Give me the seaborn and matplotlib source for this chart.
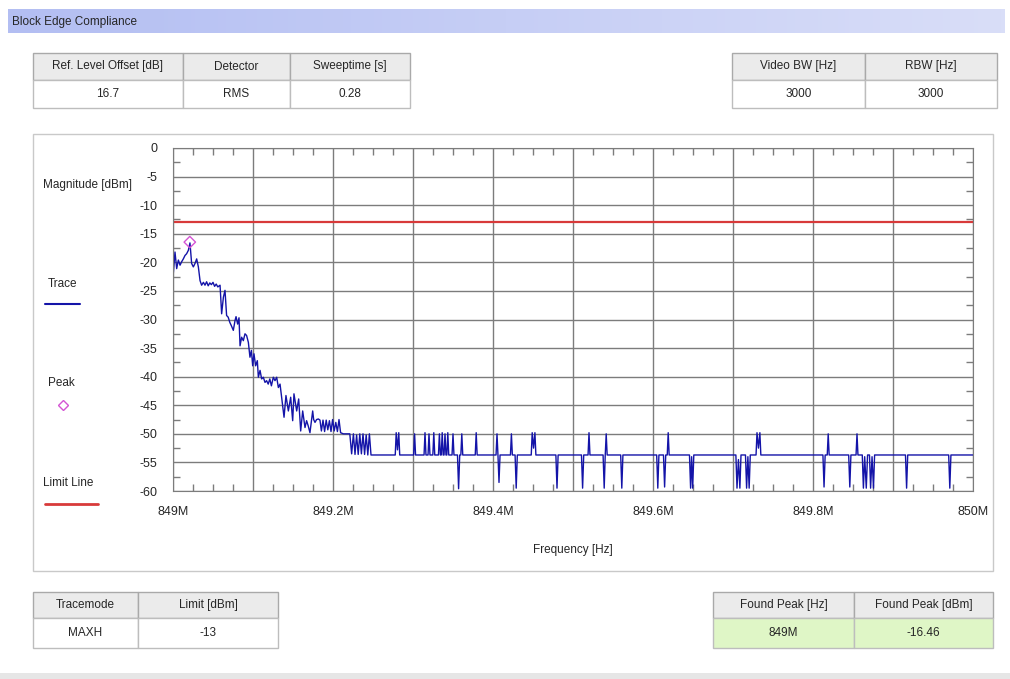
import matplotlib
matplotlib.use("Agg")
import matplotlib.pyplot as plt
import seaborn as sns
from matplotlib.patches import Rectangle
from matplotlib.lines import Line2D
from matplotlib.ticker import MultipleLocator, FuncFormatter

# trace vertices, frequency as offset from 849 MHz in kHz
base_mhz = 849.0
slope_khz = [0, 2.5, 4.6, 6.7, 8.8, 10.8, 12.9, 15, 17, 19.2, 21.2, 23.3, 25.4, 27.5, 29.6, 31.7,
             33.8, 35.8, 38, 40, 42, 44, 46, 48, 50, 52, 54, 56, 58.8, 60.8, 63, 65, 67, 69, 71, 73,
             75.4, 77.5, 78.8, 80.8, 82.5, 83.8, 85.8, 87.9, 90, 92, 94.2, 96.2, 98, 99.6, 101.2,
             103.3, 105.4, 106.7, 108.8, 110.8, 112.9, 115, 117, 119, 121, 123, 125.4, 127.5, 129.6,
             131.7, 133.8, 135.8, 138.8, 141.2, 144.2, 147.1, 149.6, 151.2, 154.6, 157.1, 159.6,
             162.1, 165, 167, 169, 171.2, 174.6, 175.8, 177.5, 179.5, 181.7, 183.7, 185.5, 187.5,
             189.5, 191.5, 193.5, 195.5, 197.5, 199.5, 201.5, 203.5, 205.5, 207.5, 209.5, 212.9,
             221, 223.3, 225.5, 227.5, 229.5, 231.5, 233.5, 235.5, 237.5, 239.5, 241.5, 243.5,
             245.5, 247.5]
slope_dbm = [-22.6, -18.2, -21.1, -19.6, -20.5, -19.9, -19.4, -18.8, -18.5, -17.9, -16.6, -20.2,
             -20.8, -20.2, -19.4, -20.8, -23.2, -24.0, -23.5, -24.0, -23.4, -24.1, -23.6, -23.9,
             -23.5, -24.2, -23.8, -24.3, -24.0, -29.0, -26.1, -24.9, -29.3, -29.6, -30.5, -31.1,
             -31.9, -30.2, -29.5, -30.8, -29.7, -34.6, -33.1, -33.7, -32.5, -32.8, -34.0, -36.6,
             -35.4, -38.1, -36.0, -38.1, -37.2, -40.1, -38.9, -40.4, -40.1, -41.0, -40.7, -41.3,
             -40.4, -41.6, -40.1, -40.7, -40.1, -41.9, -41.3, -43.6, -47.1, -43.3, -46.0, -43.6,
             -47.7, -43.0, -46.0, -43.9, -49.5, -46.0, -48.9, -47.7, -48.6, -49.8, -46.0, -47.5,
             -48.0, -47.5, -47.4, -47.6, -49.5, -47.6, -49.6, -47.6, -49.3, -47.7, -49.6, -47.5,
             -49.5, -48.0, -49.6, -47.5, -49.8, -50.0, -50.0, -53.5, -50.0, -53.6, -50.2, -53.6,
             -50.0, -53.5, -50.0, -53.6, -50.2, -53.7, -50.0, -53.7]

floor_khz = [250, 277.8, 279, 280.6, 282.2, 283.4, 300.8, 302, 303.2, 313.8, 315, 316.2, 318.8,
             320, 321.2, 324.8, 326, 327.2, 331.8, 333, 334.2, 335.3, 336.5, 337.7, 338.8, 340,
             341.2, 342.3, 343.5, 344.7, 348.8, 350, 351.2, 355.6, 357, 358.4, 359.8, 361, 362.2,
             377.8, 379, 380.2, 403.8, 405, 406.2, 407.5, 408.8, 421.8, 423, 424.2, 427.6, 429,
             430.4, 447.8, 449, 450.7, 452.4, 453.6, 478.6, 480, 481.4, 510.6, 512, 513.4, 518.8,
             520, 521.2, 537.6, 539, 540.3, 541.5, 542.7, 559.6, 561, 562.4, 604.6, 606, 607.4,
             613.1, 614.5, 615.9, 617.8, 619, 620.2, 645.6, 647, 648.3, 649.6, 651, 703.6, 705,
             706.8, 708.6, 710, 715.6, 717, 718.6, 720.2, 721.6, 728.8, 730, 731.8, 733.6, 734.8,
             812.4, 813.8, 815.2, 817.8, 819, 820.2, 844.6, 846, 847.4, 853.8, 855, 856.2, 861.6,
             863, 864.6, 866.6, 868.2, 870.6, 872, 873.8, 875.6, 877, 915.6, 917, 918.4, 969.6,
             971, 972.4, 1000]
floor_dbm = [-53.7, -53.7, -49.8, -52.8, -49.8, -53.7, -53.7, -50.0, -53.7, -53.7, -49.8, -53.7,
             -53.7, -50.0, -53.7, -53.7, -49.8, -53.7, -53.7, -50.0, -53.7, -53.7, -49.8, -53.7,
             -53.7, -50.0, -53.7, -53.7, -49.8, -53.7, -53.7, -50.0, -53.7, -53.7, -59.6, -53.7,
             -53.7, -50.0, -53.7, -53.7, -49.8, -53.7, -53.7, -50.0, -53.7, -58.5, -53.7, -53.7,
             -50.0, -53.7, -53.7, -59.5, -53.7, -53.7, -49.8, -52.5, -49.8, -53.7, -53.7, -59.5,
             -53.7, -53.7, -59.5, -53.7, -53.7, -49.8, -53.7, -53.7, -59.5, -53.7, -50.0, -53.7,
             -53.7, -59.5, -53.7, -53.7, -59.5, -53.7, -53.7, -59.3, -53.7, -53.7, -49.8, -53.7,
             -53.7, -59.5, -54.0, -59.5, -53.7, -53.7, -59.5, -54.5, -59.5, -53.7, -53.7, -59.5,
             -54.0, -59.5, -53.7, -53.7, -49.8, -52.5, -49.8, -53.7, -53.7, -59.3, -53.7, -53.7,
             -50.0, -53.7, -53.7, -59.3, -53.7, -53.7, -50.0, -53.7, -53.7, -59.5, -54.0, -59.5,
             -53.7, -53.7, -59.5, -54.0, -59.5, -53.7, -53.7, -59.5, -53.7, -53.7, -59.5, -53.7,
             -53.7]

peak_mhz = 849.021
peak_dbm = -16.46
limit_dbm = -13

top_left_heads = ["Ref. Level Offset [dB]", "Detector", "Sweeptime [s]"]
top_left_vals = ["16.7", "RMS", "0.28"]
top_right_heads = ["Video BW [Hz]", "RBW [Hz]"]
top_right_vals = ["3000", "3000"]
bot_left_heads = ["Tracemode", "Limit [dBm]"]
bot_left_vals = ["MAXH", "-13"]
bot_right_heads = ["Found Peak [Hz]", "Found Peak [dBm]"]
bot_right_vals = ["849M", "-16.46"]

sns.set_style("white")
plt.rcParams['font.family'] = ['Liberation Sans', 'DejaVu Sans']
plt.rcParams['axes.unicode_minus'] = False

W, H = 1010, 679
fig = plt.figure(figsize=(W / 100, H / 100), dpi=100)
fig.patch.set_facecolor('white')


def fx(x):
    return x / W


def fy(y):
    return 1 - y / H


def box(x0, y0, x1, y1, fc, ec, z=1, lw=1):
    fig.add_artist(Rectangle((fx(x0), fy(y1)), (x1 - x0) / W, (y1 - y0) / H,
                             transform=fig.transFigure, fc=fc, ec=ec, lw=lw, zorder=z))


def table(xs, y0, y1, y2, heads, vals, val_bg='white'):
    for i in range(len(heads)):
        a, b = xs[i], xs[i + 1]
        box(a, y0, b, y1, '#ebebeb', '#a9a9a9')
        box(a, y1, b, y2, val_bg, '#bdbdbd')
        fig.text(fx((a + b) / 2), fy((y0 + y1) / 2), heads[i], ha='center', va='center', fontsize=8.5)
        fig.text(fx((a + b) / 2), fy((y1 + y2) / 2), vals[i], ha='center', va='center', fontsize=8.5)


# title bar
tb = fig.add_axes([fx(8), fy(33), (1005 - 8) / W, 24 / H])
grad = [[i / 255 for i in range(256)]]
from matplotlib.colors import LinearSegmentedColormap
cmap = LinearSegmentedColormap.from_list('bar', ['#b3bef2', '#d9def8'])
tb.imshow(grad, aspect='auto', cmap=cmap, extent=[0, 1, 0, 1])
tb.axis('off')
fig.text(fx(12), fy(22), "Block Edge Compliance", ha='left', va='center', fontsize=8.5)

table([33, 183, 290, 410], 53, 80, 108, top_left_heads, top_left_vals)
table([732, 865, 997], 53, 80, 108, top_right_heads, top_right_vals)
table([33, 138, 278], 592, 618, 648, bot_left_heads, bot_left_vals)
table([713, 854, 993], 592, 618, 648, bot_right_heads, bot_right_vals, val_bg='#dff6c6')

# chart frame
box(33, 134, 993, 571, 'white', '#c9c9c9', z=-1)
box(0, 673, W, H, '#e6e6e6', 'none', z=-1)

ax = fig.add_axes([fx(173), fy(491), 800 / W, 343 / H])
ax.set_axisbelow(True)
x_mhz = [base_mhz + k / 1000 for k in slope_khz + floor_khz]
sns.lineplot(x=x_mhz, y=slope_dbm + floor_dbm, sort=False, estimator=None,
             color='#1414a8', lw=1, ax=ax)
ax.axhline(limit_dbm, color='#d83a3a', lw=1.6)
sns.scatterplot(x=[peak_mhz], y=[peak_dbm], marker='D', s=34, facecolor='none',
                edgecolor='#d455d4', linewidth=1, ax=ax, zorder=5)

ax.set_xlim(849, 850)
ax.set_ylim(-60, 0)
ax.xaxis.set_major_locator(MultipleLocator(0.1))
ax.xaxis.set_minor_locator(MultipleLocator(0.025))
ax.yaxis.set_major_locator(MultipleLocator(5))
ax.yaxis.set_minor_locator(MultipleLocator(2.5))
ax.xaxis.set_major_formatter(FuncFormatter(
    lambda v, p: f"{round(v, 1):g}M" if round(v * 10) % 2 == 0 else ""))
ax.yaxis.set_major_formatter(FuncFormatter(lambda v, p: f"{int(round(v))}"))
ax.grid(True, which='major', color='#7c7c7c', lw=1)
ax.tick_params(which='major', length=0, labelsize=9, pad=11)
ax.tick_params(which='minor', direction='in', length=5, width=1, color='#7c7c7c',
               top=True, bottom=True, left=True, right=True)
for s in ax.spines.values():
    s.set_color('#7c7c7c')
ax.set_xlabel("")
ax.set_ylabel("")
fig.text(fx(573), fy(550), "Frequency [Hz]", ha='center', va='center', fontsize=8.5)

# legend column on the left
fig.text(fx(43), fy(185), "Magnitude [dBm]", ha='left', va='center', fontsize=8.5)
fig.text(fx(48), fy(284), "Trace", ha='left', va='center', fontsize=8.5)
fig.add_artist(Line2D([fx(45), fx(80)], [fy(304), fy(304)], transform=fig.transFigure,
                      color='#1414a8', lw=1.5))
fig.text(fx(48), fy(383), "Peak", ha='left', va='center', fontsize=8.5)
fig.add_artist(Line2D([fx(63)], [fy(405)], transform=fig.transFigure, marker='D', ms=5.5,
                      mfc='none', mec='#d455d4', mew=1, lw=0))
fig.text(fx(43), fy(483), "Limit Line", ha='left', va='center', fontsize=8.5)
fig.add_artist(Line2D([fx(45), fx(98)], [fy(504), fy(504)], transform=fig.transFigure,
                      color='#d83a3a', lw=2))

fig.savefig("out.png", dpi=100)
